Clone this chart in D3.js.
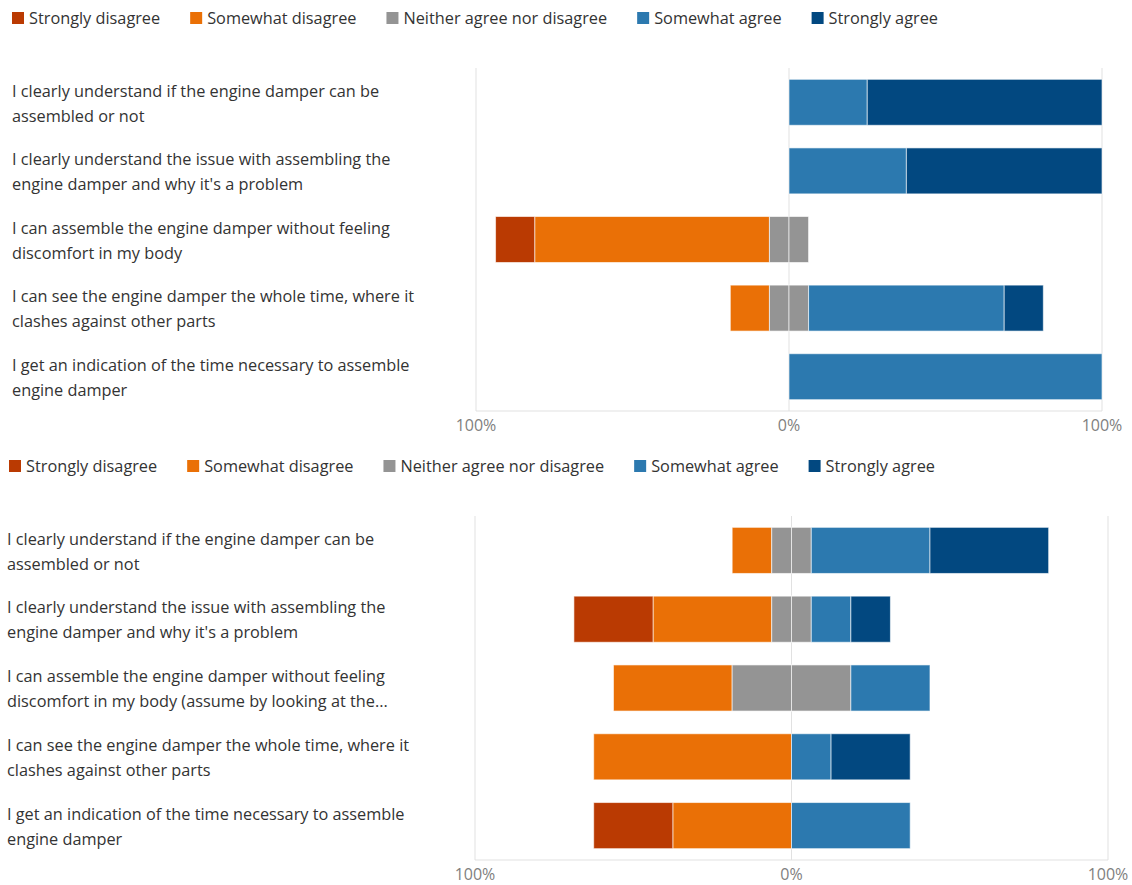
<!DOCTYPE html>
<html lang="en">
<head>
    <meta charset="UTF-8">
    <title>Likert survey results</title>
    <script src="https://d3js.org/d3.v7.min.js"></script>
    <style>
        body {
            margin: 0;
            background: #fff;
            font-family: "Open Sans", sans-serif;
        }
        .legend text, .label text {
            font-size: 16.3px;
            fill: #333;
        }
        .tick-label {
            font-size: 16px;
            fill: #808080;
        }
    </style>
</head>
<body>
<svg width="1132" height="885"></svg>
<script>
    // response levels (legend order)
    const levels = ["Strongly disagree", "Somewhat disagree", "Neither agree nor disagree", "Somewhat agree", "Strongly agree"];
    const colors = ["#ba3a02", "#ea7006", "#949494", "#2c79af", "#024880"];

    // statements, line breaks as in the picture
    const questionsTop = [
        "I clearly understand if the engine damper can be\nassembled or not",
        "I clearly understand the issue with assembling the\nengine damper and why it's a problem",
        "I can assemble the engine damper without feeling\ndiscomfort in my body",
        "I can see the engine damper the whole time, where it\nclashes against other parts",
        "I get an indication of the time necessary to assemble\nengine damper"
    ];
    const questionsBottom = [
        "I clearly understand if the engine damper can be\nassembled or not",
        "I clearly understand the issue with assembling the\nengine damper and why it's a problem",
        "I can assemble the engine damper without feeling\ndiscomfort in my body (assume by looking at the...",
        "I can see the engine damper the whole time, where it\nclashes against other parts",
        "I get an indication of the time necessary to assemble\nengine damper"
    ];

    // percentages per response level, one value per statement
    const stronglyDisagreeTop = [0, 0, 12.5, 0, 0];
    const somewhatDisagreeTop = [0, 0, 75, 12.5, 0];
    const neutralTop          = [0, 0, 12.5, 12.5, 0];
    const somewhatAgreeTop    = [25, 37.5, 0, 62.5, 100];
    const stronglyAgreeTop    = [75, 62.5, 0, 12.5, 0];

    const stronglyDisagreeBottom = [0, 25, 0, 0, 25];
    const somewhatDisagreeBottom = [12.5, 37.5, 37.5, 62.5, 37.5];
    const neutralBottom          = [12.5, 12.5, 37.5, 0, 0];
    const somewhatAgreeBottom    = [37.5, 12.5, 25, 12.5, 37.5];
    const stronglyAgreeBottom    = [37.5, 12.5, 0, 25, 0];

    const tickValues = [-100, 0, 100];
    const tickLabels = ["100%", "0%", "100%"];

    const svg = d3.select("svg");

    function drawChart(cfg) {
        const g = svg.append("g");

        // legend
        const legend = g.append("g").attr("class", "legend");
        let lx = cfg.legendX;
        levels.forEach((name, i) => {
            legend.append("rect")
                .attr("x", lx).attr("y", cfg.legendY - 6)
                .attr("width", 12).attr("height", 12)
                .attr("fill", colors[i]);
            const t = legend.append("text")
                .attr("x", lx + 17).attr("y", cfg.legendY)
                .attr("dy", "0.35em")
                .text(name);
            lx += 17 + t.node().getComputedTextLength() + 30;
        });

        const x = d3.scaleLinear().domain([-100, 100]).range([cfg.left, cfg.right]);
        const y = d3.scaleBand().domain(d3.range(cfg.questions.length))
            .range([cfg.top, cfg.bottom])
            .paddingInner(0.33).paddingOuter(0.165);

        // grid
        g.selectAll(".grid")
            .data(tickValues)
            .enter().append("line")
            .attr("x1", d => x(d)).attr("x2", d => x(d))
            .attr("y1", cfg.top).attr("y2", cfg.bottom)
            .attr("stroke", "#e1e1e1");
        g.append("line")
            .attr("x1", cfg.left).attr("x2", cfg.right)
            .attr("y1", cfg.bottom).attr("y2", cfg.bottom)
            .attr("stroke", "#e1e1e1");

        // stacked diverging segments: neutral split across 0
        const series = cfg.series;
        const segs = [];
        cfg.questions.forEach((q, r) => {
            const sd = series[0][r], swd = series[1][r], n = series[2][r], swa = series[3][r], sa = series[4][r];
            let pos = -n / 2;
            [[1, swd], [0, sd]].forEach(([k, v]) => {
                segs.push({ r, k, x0: pos - v, x1: pos });
                pos -= v;
            });
            segs.push({ r, k: 2, x0: -n / 2, x1: 0 });
            segs.push({ r, k: 2, x0: 0, x1: n / 2 });
            pos = n / 2;
            [[3, swa], [4, sa]].forEach(([k, v]) => {
                segs.push({ r, k, x0: pos, x1: pos + v });
                pos += v;
            });
        });

        g.selectAll(".bar")
            .data(segs.filter(d => d.x1 - d.x0 > 0))
            .enter().append("rect")
            .attr("class", "bar")
            .attr("x", d => x(d.x0))
            .attr("y", d => y(d.r))
            .attr("width", d => x(d.x1) - x(d.x0))
            .attr("height", y.bandwidth())
            .attr("fill", d => colors[d.k])
            .attr("stroke", "#ffffff")
            .attr("stroke-opacity", 0.6)
            .attr("stroke-width", 1);

        // tick labels
        g.selectAll(".tick-label")
            .data(tickValues)
            .enter().append("text")
            .attr("class", "tick-label")
            .attr("x", d => x(d))
            .attr("y", cfg.bottom + 14)
            .attr("dy", "0.35em")
            .attr("text-anchor", "middle")
            .text((d, i) => tickLabels[i]);

        // category labels
        const labels = g.append("g").attr("class", "label");
        cfg.questions.forEach((q, r) => {
            const lines = q.split("\n");
            const cy = y(r) + y.bandwidth() / 2 + 1;
            lines.forEach((line, j) => {
                labels.append("text")
                    .attr("x", cfg.labelX)
                    .attr("y", cy + (j - (lines.length - 1) / 2) * 25)
                    .attr("dy", "0.35em")
                    .text(line);
            });
        });
    }

    drawChart({
        questions: questionsTop,
        series: [stronglyDisagreeTop, somewhatDisagreeTop, neutralTop, somewhatAgreeTop, stronglyAgreeTop],
        legendX: 12, legendY: 18,
        left: 476, right: 1102, top: 68, bottom: 411,
        labelX: 12
    });

    drawChart({
        questions: questionsBottom,
        series: [stronglyDisagreeBottom, somewhatDisagreeBottom, neutralBottom, somewhatAgreeBottom, stronglyAgreeBottom],
        legendX: 9, legendY: 466,
        left: 475, right: 1108, top: 516, bottom: 860,
        labelX: 7
    });
</script>
</body>
</html>
